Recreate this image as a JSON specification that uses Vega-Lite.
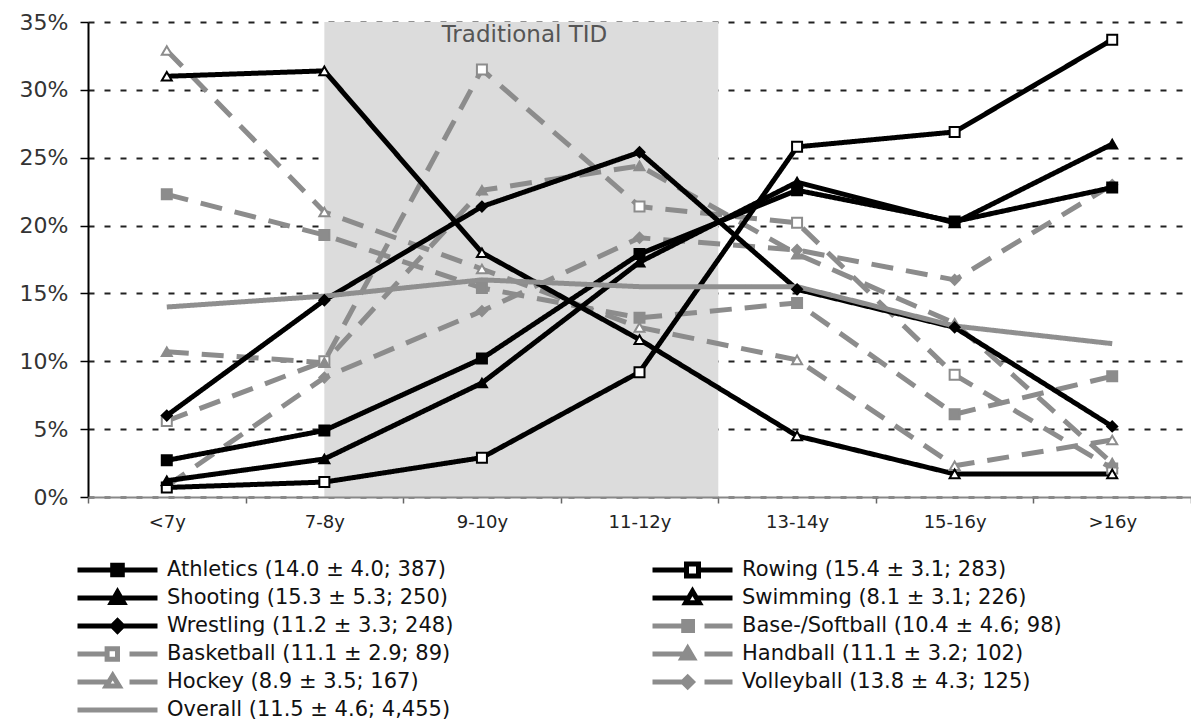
{
  "$schema": "https://vega.github.io/schema/vega-lite/v6.json",
  "width": 1103,
  "height": 475,
  "autosize": {"type": "none"},
  "padding": {"left": 88, "top": 22, "right": 0, "bottom": 225},
  "background": "white",
  "config": {
    "view": {"stroke": null},
    "font": "DejaVu Sans",
    "axisX": {
      "title": null, "tickBand": "extent", "domainColor": "#888", "domainWidth": 2,
      "tickColor": "#666", "tickWidth": 1.5, "tickSize": 6, "labelPadding": 10,
      "labelFont": "DejaVu Sans", "labelFontSize": 18, "labelColor": "#222", "grid": false, "labelAngle": 0
    },
    "axisY": {
      "title": null, "zindex": 1, "domainColor": "#000", "domainWidth": 2,
      "tickColor": "#000", "tickWidth": 1.5, "tickSize": 8, "labelPadding": 12,
      "labelFont": "DejaVu Sans", "labelFontSize": 22, "labelColor": "#333",
      "grid": true, "gridColor": "#222", "gridWidth": 2, "gridDash": [6, 10],
      "tickCount": 7, "labelExpr": "datum.value + '%'"
    }
  },
  "datasets": {
    "rows": [
      {"sport": "Base-/Softball", "age": "<7y", "pct": 22.3},
      {"sport": "Base-/Softball", "age": "7-8y", "pct": 19.3},
      {"sport": "Base-/Softball", "age": "9-10y", "pct": 15.4},
      {"sport": "Base-/Softball", "age": "11-12y", "pct": 13.2},
      {"sport": "Base-/Softball", "age": "13-14y", "pct": 14.3},
      {"sport": "Base-/Softball", "age": "15-16y", "pct": 6.1},
      {"sport": "Base-/Softball", "age": ">16y", "pct": 8.9},
      {"sport": "Basketball", "age": "<7y", "pct": 5.6},
      {"sport": "Basketball", "age": "7-8y", "pct": 10.0},
      {"sport": "Basketball", "age": "9-10y", "pct": 31.5},
      {"sport": "Basketball", "age": "11-12y", "pct": 21.4},
      {"sport": "Basketball", "age": "13-14y", "pct": 20.2},
      {"sport": "Basketball", "age": "15-16y", "pct": 9.0},
      {"sport": "Basketball", "age": ">16y", "pct": 2.1},
      {"sport": "Handball", "age": "<7y", "pct": 10.7},
      {"sport": "Handball", "age": "7-8y", "pct": 9.9},
      {"sport": "Handball", "age": "9-10y", "pct": 22.6},
      {"sport": "Handball", "age": "11-12y", "pct": 24.4},
      {"sport": "Handball", "age": "13-14y", "pct": 17.9},
      {"sport": "Handball", "age": "15-16y", "pct": 12.8},
      {"sport": "Handball", "age": ">16y", "pct": 2.5},
      {"sport": "Hockey", "age": "<7y", "pct": 32.9},
      {"sport": "Hockey", "age": "7-8y", "pct": 21.0},
      {"sport": "Hockey", "age": "9-10y", "pct": 16.8},
      {"sport": "Hockey", "age": "11-12y", "pct": 12.5},
      {"sport": "Hockey", "age": "13-14y", "pct": 10.1},
      {"sport": "Hockey", "age": "15-16y", "pct": 2.3},
      {"sport": "Hockey", "age": ">16y", "pct": 4.2},
      {"sport": "Volleyball", "age": "<7y", "pct": 0.8},
      {"sport": "Volleyball", "age": "7-8y", "pct": 8.8},
      {"sport": "Volleyball", "age": "9-10y", "pct": 13.7},
      {"sport": "Volleyball", "age": "11-12y", "pct": 19.1},
      {"sport": "Volleyball", "age": "13-14y", "pct": 18.2},
      {"sport": "Volleyball", "age": "15-16y", "pct": 16.0},
      {"sport": "Volleyball", "age": ">16y", "pct": 23.0},
      {"sport": "Athletics", "age": "<7y", "pct": 2.7},
      {"sport": "Athletics", "age": "7-8y", "pct": 4.9},
      {"sport": "Athletics", "age": "9-10y", "pct": 10.2},
      {"sport": "Athletics", "age": "11-12y", "pct": 17.9},
      {"sport": "Athletics", "age": "13-14y", "pct": 22.6},
      {"sport": "Athletics", "age": "15-16y", "pct": 20.3},
      {"sport": "Athletics", "age": ">16y", "pct": 22.8},
      {"sport": "Rowing", "age": "<7y", "pct": 0.7},
      {"sport": "Rowing", "age": "7-8y", "pct": 1.1},
      {"sport": "Rowing", "age": "9-10y", "pct": 2.9},
      {"sport": "Rowing", "age": "11-12y", "pct": 9.2},
      {"sport": "Rowing", "age": "13-14y", "pct": 25.8},
      {"sport": "Rowing", "age": "15-16y", "pct": 26.9},
      {"sport": "Rowing", "age": ">16y", "pct": 33.7},
      {"sport": "Shooting", "age": "<7y", "pct": 1.2},
      {"sport": "Shooting", "age": "7-8y", "pct": 2.8},
      {"sport": "Shooting", "age": "9-10y", "pct": 8.4},
      {"sport": "Shooting", "age": "11-12y", "pct": 17.3},
      {"sport": "Shooting", "age": "13-14y", "pct": 23.2},
      {"sport": "Shooting", "age": "15-16y", "pct": 20.2},
      {"sport": "Shooting", "age": ">16y", "pct": 26.0},
      {"sport": "Swimming", "age": "<7y", "pct": 31.0},
      {"sport": "Swimming", "age": "7-8y", "pct": 31.4},
      {"sport": "Swimming", "age": "9-10y", "pct": 18.0},
      {"sport": "Swimming", "age": "11-12y", "pct": 11.6},
      {"sport": "Swimming", "age": "13-14y", "pct": 4.5},
      {"sport": "Swimming", "age": "15-16y", "pct": 1.7},
      {"sport": "Swimming", "age": ">16y", "pct": 1.7},
      {"sport": "Wrestling", "age": "<7y", "pct": 6.0},
      {"sport": "Wrestling", "age": "7-8y", "pct": 14.5},
      {"sport": "Wrestling", "age": "9-10y", "pct": 21.4},
      {"sport": "Wrestling", "age": "11-12y", "pct": 25.4},
      {"sport": "Wrestling", "age": "13-14y", "pct": 15.3},
      {"sport": "Wrestling", "age": "15-16y", "pct": 12.5},
      {"sport": "Wrestling", "age": ">16y", "pct": 5.2},
      {"sport": "Overall", "age": "<7y", "pct": 14.0},
      {"sport": "Overall", "age": "7-8y", "pct": 14.8},
      {"sport": "Overall", "age": "9-10y", "pct": 16.0},
      {"sport": "Overall", "age": "11-12y", "pct": 15.5},
      {"sport": "Overall", "age": "13-14y", "pct": 15.5},
      {"sport": "Overall", "age": "15-16y", "pct": 12.6},
      {"sport": "Overall", "age": ">16y", "pct": 11.3}
    ]
  },
  "layer": [
    {
      "data": {"values": [{"start": "7-8y", "end": "11-12y"}]},
      "mark": {"type": "rect", "fill": "#dcdcdc"},
      "encoding": {
        "x": {"field": "start", "type": "ordinal", "bandPosition": 0.5,
              "scale": {"type": "band", "paddingInner": 0, "paddingOuter": 0,
                        "domain": ["<7y", "7-8y", "9-10y", "11-12y", "13-14y", "15-16y", ">16y"]}},
        "x2": {"field": "end", "bandPosition": 1},
        "y": {"datum": 35, "type": "quantitative", "scale": {"domain": [0, 35], "nice": false}},
        "y2": {"datum": 0}
      }
    },
    {
      "data": {"values": [{"label": "Traditional TID", "age": "9-10y"}]},
      "mark": {"type": "text", "baseline": "top", "dy": 2, "fontSize": 23, "color": "#555", "font": "DejaVu Sans"},
      "encoding": {
        "x": {"field": "age", "type": "ordinal", "bandPosition": 0.77},
        "y": {"datum": 35, "type": "quantitative"},
        "text": {"field": "label"}
      }
    },
    {
      "data": {"name": "rows"},
      "mark": {"type": "line", "strokeCap": "butt", "strokeJoin": "round"},
      "encoding": {
        "x": {"field": "age", "type": "ordinal", "bandPosition": 0.5},
        "y": {"field": "pct", "type": "quantitative"},
        "color": {
          "field": "sport", "type": "nominal",
          "scale": {
            "domain": ["Athletics", "Rowing", "Shooting", "Swimming", "Wrestling", "Base-/Softball", "Basketball", "Handball", "Hockey", "Volleyball", "Overall"],
            "range": ["#000000", "#000000", "#000000", "#000000", "#000000", "#8c8c8c", "#8c8c8c", "#8c8c8c", "#8c8c8c", "#8c8c8c", "#8f8f8f"]
          },
          "legend": {
            "orient": "none", "legendX": -13, "legendY": 534, "columns": 2, "direction": "horizontal", "title": null,
            "symbolType": "stroke", "symbolSize": 6400, "clipHeight": 28, "rowPadding": 0, "columnPadding": 196,
            "padding": 0, "labelFont": "DejaVu Sans", "labelFontSize": 21, "labelColor": "#111",
            "labelOffset": 7, "labelLimit": 700,
            "labelExpr": "{'Athletics': 'Athletics (14.0 ± 4.0; 387)', 'Rowing': 'Rowing (15.4 ± 3.1; 283)', 'Shooting': 'Shooting (15.3 ± 5.3; 250)', 'Swimming': 'Swimming (8.1 ± 3.1; 226)', 'Wrestling': 'Wrestling (11.2 ± 3.3; 248)', 'Base-/Softball': 'Base-/Softball (10.4 ± 4.6; 98)', 'Basketball': 'Basketball (11.1 ± 2.9; 89)', 'Handball': 'Handball (11.1 ± 3.2; 102)', 'Hockey': 'Hockey (8.9 ± 3.5; 167)', 'Volleyball': 'Volleyball (13.8 ± 4.3; 125)', 'Overall': 'Overall (11.5 ± 4.6; 4,455)'}[datum.label]",
            "encode": {
              "symbols": {
                "update": {
                  "shape": {"signal": "{'Athletics': 'M-1,0H1M-0.12,-0.12H0.12V0.12H-0.12Z', 'Rowing': 'M-1,0H-0.15M0.15,0H1M-0.15,-0.15H0.15V0.15H-0.15Z', 'Shooting': 'M-1,0H1M0,-0.15L0.15,0.11H-0.15Z', 'Swimming': 'M-1,0H-0.1M0.1,0H1M0,-0.17L0.17,0.12H-0.17Z', 'Wrestling': 'M-1,0H1M0,-0.13L0.13,0L0,0.13L-0.13,0Z', 'Base-/Softball': 'M-1,0H-0.1M-0.22,-0.11H0V0.11H-0.22ZM0.3,0H1', 'Basketball': 'M-1,0H-0.26M-0.26,-0.13H0V0.13H-0.26ZM0.3,0H1', 'Handball': 'M-1,0H-0.1M-0.12,-0.14L0.02,0.1H-0.26ZM0.3,0H1', 'Hockey': 'M-1,0H-0.2M-0.12,-0.16L0.04,0.1H-0.28ZM0.3,0H1', 'Volleyball': 'M-1,0H-0.1M-0.12,-0.12L0,0L-0.12,0.12L-0.24,0ZM0.3,0H1', 'Overall': 'M-1,0H1'}[datum.value]"},
                  "fill": {"signal": "indexof(['Rowing', 'Swimming', 'Basketball', 'Hockey'], datum.value) >= 0 ? '#ffffff' : (indexof(['Athletics', 'Shooting', 'Wrestling'], datum.value) >= 0 ? '#000000' : '#8c8c8c')"}
                }
              }
            }
          }
        },
        "strokeDash": {
          "condition": {"test": "indexof(['Base-/Softball', 'Basketball', 'Handball', 'Hockey', 'Volleyball'], datum.sport) >= 0", "value": [22, 13]},
          "value": [1, 0]
        },
        "strokeWidth": {
          "field": "sport", "type": "nominal",
          "scale": {
            "domain": ["Athletics", "Rowing", "Shooting", "Swimming", "Wrestling", "Base-/Softball", "Basketball", "Handball", "Hockey", "Volleyball", "Overall"],
            "range": [5, 5, 5, 5, 5, 3.8, 3.8, 3.8, 3.8, 3.8, 5]
          }
        },
        "detail": {"field": "sport"}
      }
    },
    {
      "data": {"name": "rows"},
      "transform": [{"filter": "datum.sport !== 'Overall'"}],
      "mark": {"type": "point", "strokeWidth": 2, "opacity": 1, "size": 100},
      "encoding": {
        "x": {"field": "age", "type": "ordinal", "bandPosition": 0.5},
        "y": {"field": "pct", "type": "quantitative"},
        "shape": {
          "field": "sport", "type": "nominal", "legend": null,
          "scale": {
            "domain": ["Athletics", "Rowing", "Shooting", "Swimming", "Wrestling", "Base-/Softball", "Basketball", "Handball", "Hockey", "Volleyball"],
            "range": ["square", "square", "triangle-up", "triangle-up", "diamond", "square", "square", "triangle-up", "triangle-up", "diamond"]
          }
        },
        "fill": {
          "field": "sport", "type": "nominal", "legend": null,
          "scale": {
            "domain": ["Athletics", "Rowing", "Shooting", "Swimming", "Wrestling", "Base-/Softball", "Basketball", "Handball", "Hockey", "Volleyball"],
            "range": ["#000000", "#ffffff", "#000000", "#ffffff", "#000000", "#8c8c8c", "#ffffff", "#8c8c8c", "#ffffff", "#8c8c8c"]
          }
        },
        "stroke": {
          "field": "sport", "type": "nominal", "legend": null,
          "scale": {
            "domain": ["Athletics", "Rowing", "Shooting", "Swimming", "Wrestling", "Base-/Softball", "Basketball", "Handball", "Hockey", "Volleyball"],
            "range": ["#000000", "#000000", "#000000", "#000000", "#000000", "#8c8c8c", "#8c8c8c", "#8c8c8c", "#8c8c8c", "#8c8c8c"]
          }
        }
      }
    }
  ]
}
